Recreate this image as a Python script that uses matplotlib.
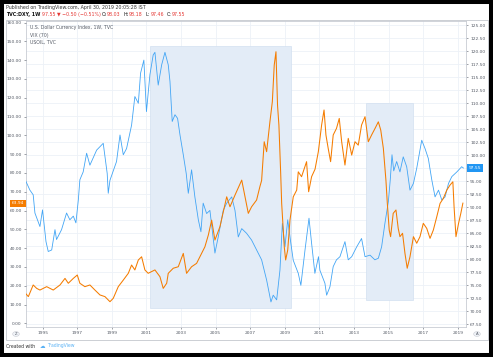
import matplotlib
matplotlib.use('Agg')
import matplotlib.pyplot as plt
from matplotlib.patches import Rectangle, Circle
from matplotlib.transforms import blended_transform_factory

# U.S. Dollar Currency Index (right scale), weekly
dxy_years = [1994.0, 1994.26, 1994.45, 1994.55, 1994.84, 1994.99, 1995.19, 1995.32, 1995.52, 1995.71,
             1995.8, 1996.09, 1996.38, 1996.57, 1996.77, 1996.92, 1997.06, 1997.15, 1997.34, 1997.54,
             1997.73, 1998.12, 1998.5, 1998.73, 1998.79, 1998.89, 1999.27, 1999.47, 1999.66, 1999.85,
             2000.14, 2000.33, 2000.53, 2000.66, 2000.85, 2001.0, 2001.2, 2001.39, 2001.49, 2001.68,
             2001.88, 2002.07, 2002.26, 2002.36, 2002.49, 2002.65, 2002.8, 2002.94, 2003.13, 2003.3,
             2003.42, 2003.61, 2003.8, 2004.0, 2004.15, 2004.28, 2004.48, 2004.67, 2004.96, 2005.15,
             2005.44, 2005.64, 2005.93, 2006.12, 2006.31, 2006.51, 2006.79, 2007.08, 2007.37, 2007.66,
             2007.95, 2008.2, 2008.33, 2008.53, 2008.72, 2008.86, 2009.01, 2009.17, 2009.3, 2009.49,
             2009.78, 2009.93, 2010.17, 2010.4, 2010.55, 2010.74, 2010.95, 2011.03, 2011.32, 2011.42,
             2011.61, 2011.8, 2011.99, 2012.19, 2012.48, 2012.67, 2012.87, 2013.16, 2013.44, 2013.64,
             2013.93, 2014.21, 2014.41, 2014.6, 2014.79, 2014.99, 2015.1, 2015.2, 2015.3, 2015.47,
             2015.66, 2015.85, 2016.05, 2016.24, 2016.44, 2016.63, 2016.92, 2017.11, 2017.3, 2017.5,
             2017.69, 2017.89, 2018.08, 2018.27, 2018.47, 2018.66, 2018.95, 2019.23, 2019.33]
dxy_values = [95.2, 93.3, 92.4, 88.9, 86.3, 89.5, 83.4, 81.5, 81.8, 85.7,
              83.8, 85.7, 88.9, 87.6, 88.3, 87.0, 91.4, 95.3, 96.8, 100.4,
              98.1, 101.0, 102.3, 96.5, 92.7, 95.2, 98.8, 103.9, 100.1, 101.3,
              105.8, 111.3, 110.0, 115.8, 118.3, 108.4, 115.5, 119.3, 119.8, 113.5,
              117.4, 119.8, 117.4, 114.2, 106.5, 107.8, 107.1, 103.9, 100.1, 96.5,
              92.7, 97.2, 92.0, 87.6, 85.3, 90.8, 88.8, 89.4, 81.2, 84.3,
              89.4, 90.8, 92.0, 89.4, 84.3, 85.9, 85.0, 83.7, 81.8, 79.9,
              76.0, 71.8, 73.1, 72.2, 77.9, 86.9, 82.4, 87.6, 84.3, 79.8,
              77.3, 75.0, 81.8, 87.9, 83.1, 77.3, 80.5, 77.9, 75.4, 73.1,
              74.7, 78.6, 79.9, 80.5, 83.4, 79.9, 80.5, 82.4, 84.0, 80.5,
              80.8, 79.9, 80.2, 82.4, 86.9, 91.1, 95.3, 100.1, 97.0, 98.8,
              96.8, 99.7, 97.8, 93.3, 94.6, 97.5, 102.9, 101.3, 99.4, 95.3,
              92.0, 93.3, 91.4, 92.0, 94.6, 95.9, 96.8, 97.8, 97.55]

# USOIL (left scale)
oil_years = [1994.0, 1994.17, 1994.45, 1994.65, 1994.84, 1995.23, 1995.61, 1996.0, 1996.29, 1996.48,
             1996.77, 1997.0, 1997.15, 1997.44, 1997.73, 1998.02, 1998.31, 1998.6, 1998.89, 1999.08,
             1999.37, 1999.66, 1999.95, 2000.14, 2000.33, 2000.53, 2000.72, 2000.91, 2001.1, 2001.49,
             2001.78, 2001.97, 2002.17, 2002.26, 2002.55, 2002.84, 2003.13, 2003.32, 2003.61, 2003.9,
             2004.19, 2004.38, 2004.58, 2004.77, 2004.96, 2005.25, 2005.64, 2005.83, 2006.12, 2006.51,
             2006.7, 2006.89, 2007.08, 2007.37, 2007.56, 2007.66, 2007.81, 2007.95, 2008.14, 2008.28,
             2008.39, 2008.49, 2008.58, 2008.66, 2008.76, 2008.82, 2008.97, 2009.05, 2009.17, 2009.3,
             2009.49, 2009.69, 2009.78, 2009.97, 2010.26, 2010.38, 2010.55, 2010.75, 2010.94, 2011.13,
             2011.27, 2011.38, 2011.51, 2011.65, 2011.8, 2011.99, 2012.15, 2012.29, 2012.48, 2012.67,
             2012.87, 2013.06, 2013.25, 2013.44, 2013.64, 2013.83, 2014.02, 2014.22, 2014.41, 2014.55,
             2014.7, 2014.79, 2014.85, 2014.93, 2015.04, 2015.12, 2015.27, 2015.43, 2015.56, 2015.66,
             2015.81, 2015.95, 2016.08, 2016.24, 2016.44, 2016.63, 2016.82, 2017.01, 2017.21, 2017.4,
             2017.59, 2017.79, 2017.98, 2018.17, 2018.37, 2018.56, 2018.72, 2018.79, 2018.9, 2019.05,
             2019.18, 2019.3]
oil_values = [16.0, 14.2, 20.4, 18.6, 17.7, 19.5, 17.7, 20.4, 23.9, 21.3,
              23.9, 25.7, 21.3, 19.5, 20.4, 17.7, 15.1, 14.2, 11.5, 13.3,
              19.5, 23.0, 26.6, 31.0, 28.4, 33.7, 35.4, 28.4, 26.6, 28.4,
              24.8, 18.6, 21.3, 26.6, 29.3, 30.1, 37.2, 26.6, 30.1, 31.9,
              37.2, 40.7, 47.0, 54.9, 44.3, 51.4, 67.3, 62.0, 68.2, 76.2,
              67.3, 58.5, 62.0, 65.6, 72.7, 76.0, 96.6, 91.3, 107.2, 117.9,
              137.4, 144.5, 116.1, 105.5, 80.6, 63.8, 40.7, 33.7, 39.0, 54.9,
              67.3, 70.9, 80.6, 78.0, 86.0, 70.0, 78.0, 82.0, 91.3, 105.5,
              113.5, 100.2, 93.1, 86.0, 100.2, 103.7, 109.0, 96.6, 84.2, 98.4,
              89.5, 96.6, 94.8, 105.5, 109.9, 96.6, 100.2, 103.7, 107.2, 102.8,
              93.1, 82.4, 76.0, 63.8, 49.6, 46.1, 58.5, 60.3, 50.5, 46.1,
              47.9, 37.2, 29.3, 35.4, 46.1, 42.6, 46.1, 53.2, 50.5, 45.2,
              49.6, 56.7, 63.8, 66.5, 70.9, 73.6, 75.3, 62.0, 46.1, 53.2,
              58.5, 63.94]

year_ticks = [1995, 1997, 1999, 2001, 2003, 2005, 2007, 2009, 2011, 2013, 2015, 2017, 2019]
oil_ticks = [0, 10, 20, 30, 40, 50, 60, 70, 80, 90, 100, 110, 120, 130, 140, 150, 160]
dxy_ticks = [67.5, 70, 72.5, 75, 77.5, 80, 82.5, 85, 87.5, 90, 92.5, 95, 97.5, 100,
             102.5, 105, 107.5, 110, 112.5, 115, 117.5, 120, 122.5, 125]

W, H = 493, 357
BLUE = '#42a5f5'
ORANGE = '#f57c00'
GRAY = '#555b66'
RED = '#e53935'


def px(x, y):
    return x / W, 1 - y / H


fig = plt.figure(figsize=(W / 100, H / 100), dpi=100)
fig.patch.set_facecolor('white')

ax = fig.add_axes([26 / W, 1 - 326.7 / H, 440 / W, 306 / H])
ax2 = ax.twinx()

ax.set_xlim(1994.034, 2019.48)
ax.set_ylim(67.04, 125.88)
ax.set_yticks(dxy_ticks)
ax.set_yticklabels(['' if t == 97.5 else '%.2f' % t for t in dxy_ticks])
ax.set_xticks(year_ticks)
ax.set_xticklabels([str(y) for y in year_ticks])
ax.grid(True, color='#edf1f7', lw=0.6)
ax.set_axisbelow(True)
ax.tick_params(axis='both', labelsize=3.2, colors=GRAY, length=1.5, width=0.4, pad=1.5)
for s in ax.spines.values():
    s.set_color('#c9ccd3')
    s.set_linewidth(0.6)

# highlighted periods
ax.add_patch(Rectangle((2001.2, 70.58), 8.14, 50.44, fc='#e3ecf7', ec='#d3e0f0', lw=0.5, zorder=1))
ax.add_patch(Rectangle((2013.7, 72.17), 2.7, 37.83, fc='#e3ecf7', ec='#d3e0f0', lw=0.5, zorder=1))

ax.plot(dxy_years, dxy_values, color=BLUE, lw=0.6, zorder=3)

ax2.set_ylim(-1.8, 161.0)
ax2.set_yticks(oil_ticks)
ax2.set_yticklabels(['%.2f' % t for t in oil_ticks])
ax2.tick_params(axis='y', labelsize=3.2, colors=GRAY, length=1.5, width=0.4, pad=1.5)
for s in ax2.spines.values():
    s.set_visible(False)
ax2.plot(oil_years, oil_values, color=ORANGE, lw=0.75, zorder=3)

# dollar index on the right, oil on the left (after twinx, which moves them)
ax.yaxis.tick_right()
ax2.yaxis.tick_left()

# last value tags
tr = blended_transform_factory(ax.transAxes, ax.transData)
ax.text(1.006, 97.55, '97.55', transform=tr, ha='left', va='center', fontsize=3.2, color='white',
        bbox=dict(boxstyle='square,pad=0.35', fc='#2196f3', ec='none'), zorder=5, clip_on=False)
tr2 = blended_transform_factory(ax2.transAxes, ax2.transData)
ax2.text(-0.004, 63.94, '63.94', transform=tr2, ha='right', va='center', fontsize=3.2, color='white',
         bbox=dict(boxstyle='square,pad=0.35', fc=ORANGE, ec='none'), zorder=5, clip_on=False)

# legend texts inside pane
fig.text(*px(30, 27), 'U.S. Dollar Currency Index, 1W, TVC', fontsize=3.3, color=GRAY, va='center')
fig.text(*px(30, 35), 'VIX (70)', fontsize=3.3, color=GRAY, va='center')
fig.text(*px(30, 42), 'USOIL, TVC', fontsize=3.3, color=GRAY, va='center')

# header
fig.text(*px(6, 7), 'Published on TradingView.com, April 30, 2019 20:05:28 IST', fontsize=3.4,
         color='#333333', va='center')
fig.text(*px(6, 14.5), 'TVC:DXY, 1W', fontsize=3.4, color='#111111', weight='bold', va='center')
fig.text(*px(42, 14.5), '97.55 \u25bc \u22120.50 (\u22120.51%)', fontsize=3.4, color=RED, va='center')
hdr = [('O:', '98.03', 102), ('H:', '98.18', 124), ('L:', '97.46', 146), ('C:', '97.55', 167)]
for k, v, x in hdr:
    fig.text(*px(x, 14.5), k, fontsize=3.4, color='#111111', va='center')
    fig.text(*px(x + 4.5, 14.5), v, fontsize=3.4, color=RED, va='center')

# chart panel frame
fig.patches.append(Rectangle(px(6, 340), 482 / W, 320.5 / H, transform=fig.transFigure,
                             fill=False, ec='#b8bcc4', lw=0.5))

# small icons under the price scales
for cx, ch in [(16, 'Z'), (477, 'A')]:
    fig.patches.append(Circle(px(cx, 334), 3.3 / W, transform=fig.transFigure,
                              fc='#f0f3f8', ec='#c9ccd3', lw=0.4))
    fig.text(*px(cx, 334), ch, fontsize=2.8, color=GRAY, ha='center', va='center')

# footer
fig.text(*px(6, 346), 'Created with', fontsize=3.3, color='#333333', va='center')
fig.text(*px(40, 346), '\u2601', fontsize=4, color='#5cb3f5', va='center')
fig.text(*px(47, 346), 'TradingView', fontsize=3.3, color='#5cb3f5', va='center')

# outer black border
fig.patches.append(Rectangle((2 / W, 2 / H), 1 - 4 / W, 1 - 4 / H, transform=fig.transFigure,
                             fill=False, ec='black', lw=2.9))

fig.savefig('out.png', dpi=100)
